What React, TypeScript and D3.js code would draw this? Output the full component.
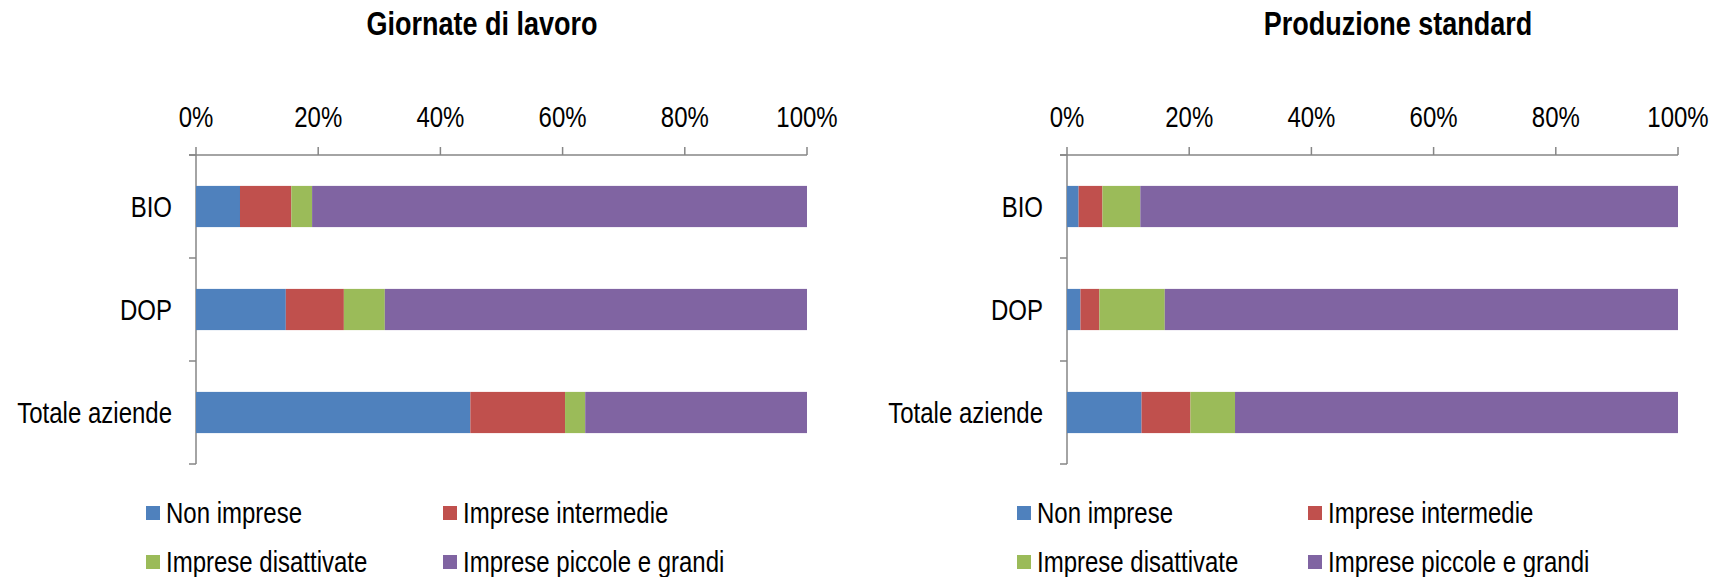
import * as d3 from 'd3'

const categories = ['BIO', 'DOP', 'Totale aziende']
const seriesNames = ['Non imprese', 'Imprese intermedie', 'Imprese disattivate', 'Imprese piccole e grandi']
const colors = ['#4F81BD', '#C0504D', '#9BBB59', '#8064A2']
const tickValues = [0, 0.2, 0.4, 0.6, 0.8, 1]

// Giornate di lavoro (%)
const giornateNonImprese = [7.2, 14.7, 44.9]
const giornateIntermedie = [8.4, 9.5, 15.5]
const giornateDisattivate = [3.4, 6.7, 3.3]
const giornatePiccoleGrandi = [81.0, 69.1, 36.3]

// Produzione standard (%)
const produzioneNonImprese = [1.9, 2.2, 12.2]
const produzioneIntermedie = [3.9, 3.1, 8.0]
const produzioneDisattivate = [6.2, 10.7, 7.3]
const produzionePiccoleGrandi = [88.0, 84.0, 72.5]

const FONT = 'Liberation Sans, Arial, sans-serif'
const AXIS = '#868686'
const STRETCH = 1.2 // the original font is narrow and tall

type Row = { cat: string; [k: string]: number | string }

function buildRows(cols: number[][]): Row[] {
    return categories.map((cat, i) => {
        const r: Row = { cat }
        seriesNames.forEach((s, j) => (r[s] = cols[j][i]))
        return r
    })
}

function Label({ x, y, children, anchor = 'start', size = 24, bold = false }: any) {
    return (
        <text
            transform={`translate(${x},${y}) scale(1,${STRETCH})`}
            textAnchor={anchor}
            fontFamily={FONT}
            fontSize={size}
            fontWeight={bold ? 'bold' : 'normal'}
        >
            {children}
        </text>
    )
}

function Panel({ title, titleX, dx, cols, legendCols }: { title: string; titleX: number; dx: number; cols: number[][]; legendCols: number[] }) {
    const rows = buildRows(cols)
    const stacked = d3.stack<Row>().keys(seriesNames).offset(d3.stackOffsetExpand)(rows as any)

    const x = d3.scaleLinear().domain([0, 1]).range([196 + dx, 807 + dx])
    const y = d3.scaleBand().domain(categories).range([155, 464]).paddingInner(0.6).paddingOuter(0.3)
    const step = y.step()
    const top = 155
    const bottom = 464

    return (
        <g>
            <Label x={titleX} y={35} anchor="middle" size={27} bold>
                {title}
            </Label>

            {/* x axis on top */}
            <line x1={x(0) - 7} x2={x(1)} y1={top} y2={top} stroke={AXIS} strokeWidth={1.5} />
            {tickValues.map((t) => (
                <g key={t}>
                    <line x1={x(t)} x2={x(t)} y1={top - 8} y2={top} stroke={AXIS} strokeWidth={1.5} />
                    <Label x={x(t)} y={127} anchor="middle">
                        {d3.format('.0%')(t)}
                    </Label>
                </g>
            ))}

            {/* category axis */}
            <line x1={x(0)} x2={x(0)} y1={top} y2={bottom} stroke={AXIS} strokeWidth={1.5} />
            {d3.range(categories.length + 1).map((i) => (
                <line key={i} x1={x(0) - 7} x2={x(0)} y1={top + i * step} y2={top + i * step} stroke={AXIS} strokeWidth={1.5} />
            ))}
            {categories.map((c) => (
                <Label key={c} x={x(0) - 24} y={(y(c) as number) + y.bandwidth() / 2 + 10} anchor="end">
                    {c}
                </Label>
            ))}

            {stacked.map((s, j) => (
                <g key={s.key} fill={colors[j]}>
                    {s.map((d: any) => (
                        <rect
                            key={d.data.cat}
                            x={x(d[0])}
                            width={x(d[1]) - x(d[0])}
                            y={y(d.data.cat)}
                            height={y.bandwidth()}
                        />
                    ))}
                </g>
            ))}

            {/* legend */}
            {seriesNames.map((s, j) => {
                const lx = legendCols[j % 2]
                const ly = j < 2 ? 513 : 562
                return (
                    <g key={s}>
                        <rect x={lx} y={ly - 7} width={14} height={14} fill={colors[j]} />
                        <Label x={lx + 20} y={ly + 10}>
                            {s}
                        </Label>
                    </g>
                )
            })}
        </g>
    )
}

export default function App() {
    return (
        <svg width={1713} height={577} style={{ position: 'absolute', left: 0, top: 0, background: '#fff' }}>
            <Panel
                title="Giornate di lavoro"
                titleX={482}
                dx={0}
                cols={[giornateNonImprese, giornateIntermedie, giornateDisattivate, giornatePiccoleGrandi]}
                legendCols={[146, 443]}
            />
            <Panel
                title="Produzione standard"
                titleX={1398}
                dx={871}
                cols={[produzioneNonImprese, produzioneIntermedie, produzioneDisattivate, produzionePiccoleGrandi]}
                legendCols={[1017, 1308]}
            />
        </svg>
    )
}
